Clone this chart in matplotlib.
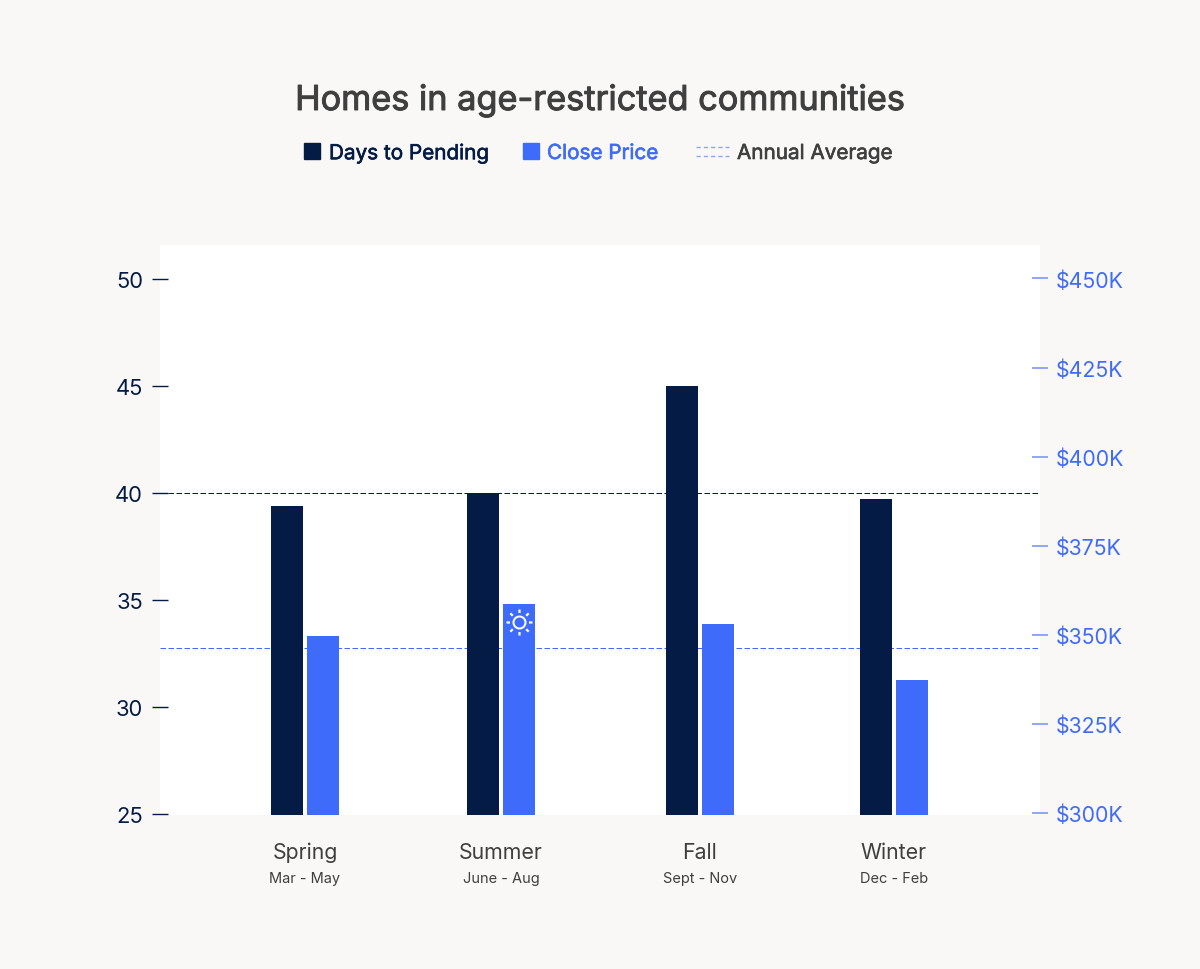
import matplotlib
matplotlib.use("Agg")
import matplotlib.pyplot as plt
import matplotlib.patheffects as pe
from matplotlib.path import Path
from matplotlib.patches import Rectangle
from matplotlib.lines import Line2D
from matplotlib.transforms import ScaledTranslation
import numpy as np

# Values
seasons = ["Spring", "Summer", "Fall", "Winter"]
season_months = ["Mar - May", "June - Aug", "Sept - Nov", "Dec - Feb"]
days_to_pending = [39.35, 40.0, 45.0, 39.7]
close_price_k = [349.8, 358.6, 353.0, 337.4]
days_average = 40.0
price_average_k = 346.4
days_ticks = [25, 30, 35, 40, 45, 50]
price_ticks = [300, 325, 350, 375, 400, 425, 450]
legend_labels = ["Days to Pending", "Close Price", "Annual Average"]

# Layout and colours
W, H = 1200, 970
DPI = 100
group_x = [305, 501, 700, 894]
BAR_W, BAR_OFFSET = 32, 18
BG, NAVY, BLUE = "#F9F8F6", "#041C45", "#3F6BFA"
PALE_BLUE, GREY = "#8FA6F7", "#3F3F3F"
FONT = "Inter"
px = 72 / DPI

plt.rcParams["font.family"] = [FONT, "DejaVu Sans"]
fig = plt.figure(figsize=(W / DPI, H / DPI), dpi=DPI, facecolor=BG)
rect = [160 / W, (H - 816) / H, 880 / W, 570 / H]

# Right axis sits underneath so its average line passes behind every bar
ax_price = fig.add_axes(rect, facecolor="white", zorder=1)
ax_days = ax_price.twinx()
ax_days.set_zorder(2)
ax_days.patch.set_visible(False)

ax_price.set_xlim(160, 1040)
ax_days.set_ylim(24.93, 51.57)
ax_price.set_ylim(299.44, 459.4)

ax_price.axhline(price_average_k, color=BLUE, lw=1.0 * px, dashes=(5.5, 2.5), zorder=1)
ax_days.axhline(days_average, color=NAVY, lw=1.0 * px, dashes=(5.5, 2.5), zorder=1)

x = np.array(group_x, dtype=float)
ax_days.bar(x - BAR_OFFSET, days_to_pending, BAR_W, bottom=0, color=NAVY, zorder=2)
ax_price.bar(x + BAR_OFFSET, close_price_k, BAR_W, bottom=0, color=BLUE, zorder=2)

for a in (ax_price, ax_days):
    for s in a.spines.values():
        s.set_visible(False)

# Days axis is drawn on the left, price axis on the right
ax_days.yaxis.tick_left()
ax_days.set_yticks(days_ticks)
ax_days.tick_params(axis="y", direction="inout", length=16 * px, width=1.0, color=NAVY,
                    labelcolor=NAVY, labelsize=22 * px, pad=9 * px)
ax_price.yaxis.tick_right()
ax_price.set_yticks(price_ticks, [f"${v}K" for v in price_ticks])
ax_price.tick_params(axis="y", direction="inout", length=16 * px, width=1.4, color=PALE_BLUE,
                     labelcolor=BLUE, labelsize=21.3 * px, pad=8 * px)

# Season names with their month ranges beneath
ax_price.set_xticks(group_x, seasons)
ax_price.tick_params(axis="x", length=0, labelsize=21.3 * px, labelcolor=GREY, pad=27 * px)
ax_days.tick_params(axis="x", length=0, labelbottom=False)
for gx, months in zip(group_x, season_months):
    ax_price.annotate(months, (gx, 0), xycoords=ax_price.get_xaxis_transform(),
                      xytext=(0, -63 * px), textcoords="offset points",
                      ha="center", va="center", fontsize=14.6 * px, color=GREY)

# Sun icon inside the summer price bar
spokes = []
codes = []
for ang in np.deg2rad(np.arange(0, 360, 45)):
    spokes += [(9.5 * np.cos(ang), 9.5 * np.sin(ang)), (13 * np.cos(ang), 13 * np.sin(ang))]
    codes += [Path.MOVETO, Path.LINETO]
spoke_path = Path(spokes, codes)
sun_offset = ScaledTranslation(0, -18 * px / 72, fig.dpi_scale_trans)
sun_tr = ax_price.transData + sun_offset
sun_x, sun_y = group_x[1] + BAR_OFFSET, close_price_k[1]
ax_price.plot([sun_x], [sun_y], transform=sun_tr, marker="o", ms=12 * px, mfc="none",
              mec="white", mew=2.0 * px, ls="none", zorder=3)
ax_price.plot([sun_x], [sun_y], transform=sun_tr, marker=spoke_path, ms=26 * px, mfc="none",
              mec="white", mew=2.2 * px, ls="none", zorder=3)


def fx(v):
    return v / W


def fy(v):
    return 1 - v / H


def heavier(width, colour):
    # Thickens the regular cut to a medium-looking weight
    return [pe.withStroke(linewidth=width, foreground=colour)]


fig.text(fx(600), fy(102), "Homes in age-restricted communities", ha="center", va="center",
         fontsize=34.3 * px, color=GREY, path_effects=heavier(0.7, GREY))

# Legend, placed by hand along one row above the plot
fig.add_artist(Rectangle((fx(304), fy(160)), 16 / W, 16 / H, transform=fig.transFigure, color=NAVY))
fig.text(fx(329), fy(154), legend_labels[0], va="center", fontsize=20.7 * px, color=NAVY,
         path_effects=heavier(0.45, NAVY))
fig.add_artist(Rectangle((fx(523), fy(160)), 16 / W, 16 / H, transform=fig.transFigure, color=BLUE))
fig.text(fx(547), fy(154), legend_labels[1], va="center", fontsize=20.7 * px, color=BLUE,
         path_effects=heavier(0.45, BLUE))
for yy in (148, 157):
    fig.add_artist(Line2D([fx(696), fx(729)], [fy(yy), fy(yy)], transform=fig.transFigure,
                          color=PALE_BLUE, lw=1.4 * px, dashes=(3, 2.2)))
fig.text(fx(737), fy(154), legend_labels[2], va="center", fontsize=20.7 * px, color=GREY,
         path_effects=heavier(0.45, GREY))

fig.savefig("out.png", dpi=DPI, facecolor=BG)
